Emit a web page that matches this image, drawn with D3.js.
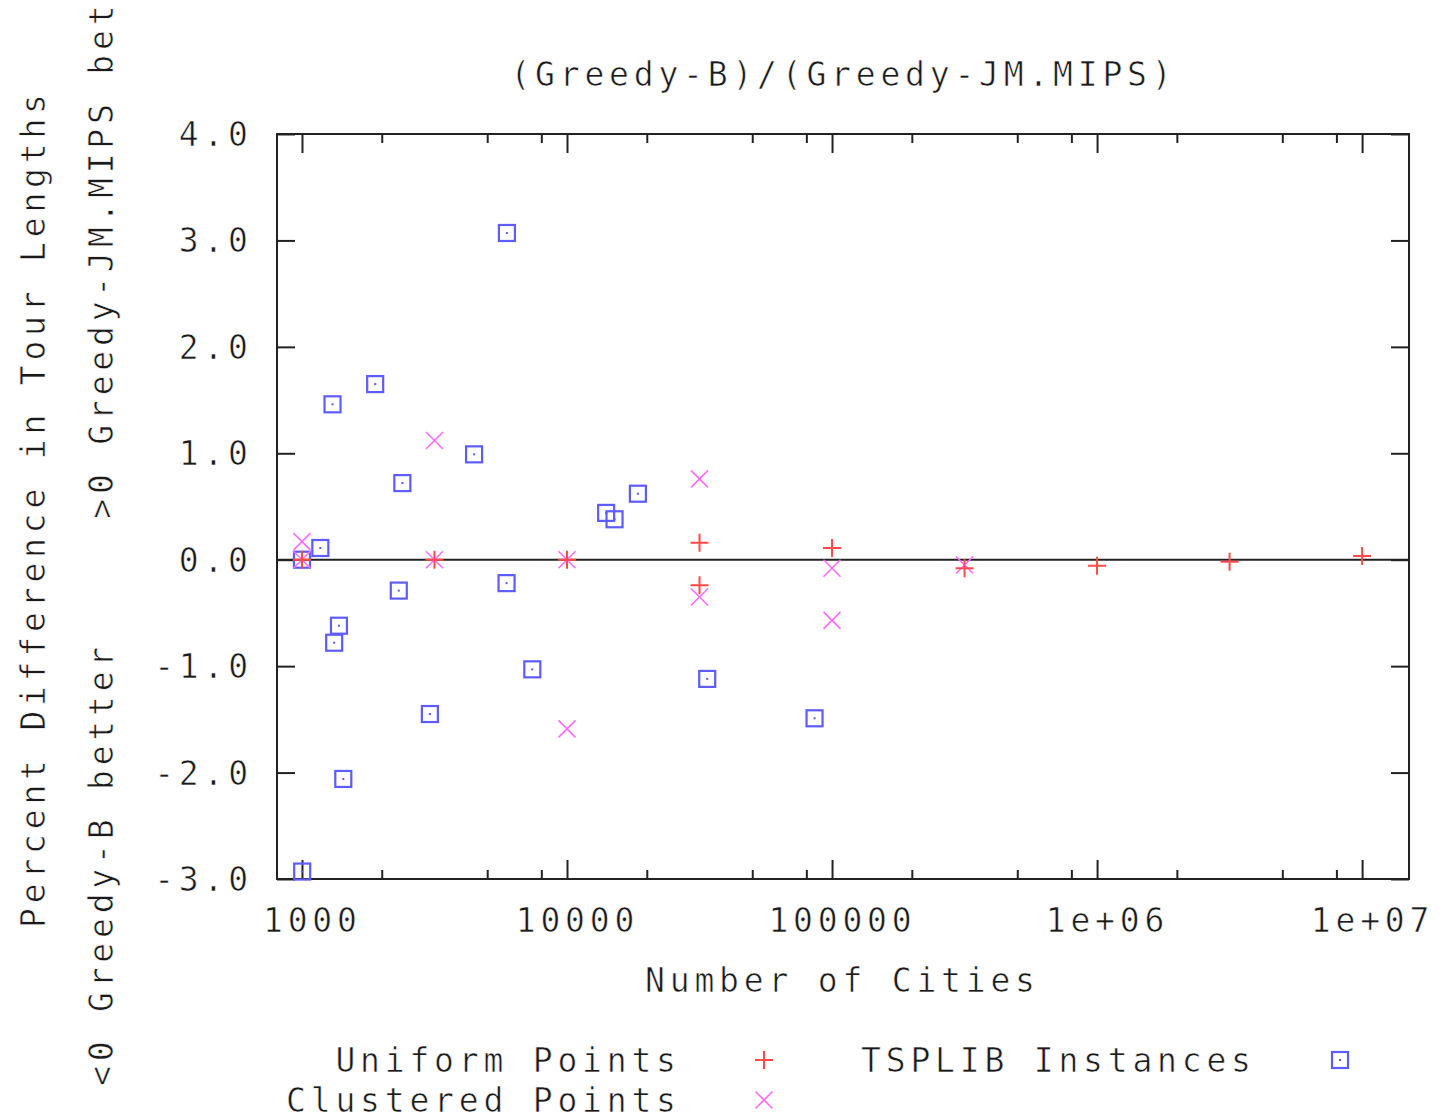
<!DOCTYPE html>
<html>
<head>
<meta charset="utf-8">
<script src="https://cdn.jsdelivr.net/npm/d3@7"></script>
<style>
  html, body { margin: 0; padding: 0; background: #fff; }
  svg { display: block; }
  .lbl { font-family: "DejaVu Sans Mono", monospace; font-size: 33px; letter-spacing: 4.8px;
         fill: #1a1a1a; stroke: #fff; stroke-width: 0.6px; }
</style>
</head>
<body>
<svg id="chart" width="1439" height="1119"></svg>
<script>
// Tour-length comparison data: number of cities vs percent difference
const uniformCities   = [1000, 3162, 10000, 31623, 31623, 100000, 316228, 1000000, 3162278, 10000000];
const uniformValues   = [0.0, 0.0, 0.0, 0.16, -0.24, 0.11, -0.08, -0.056, -0.02, 0.035];

const clusteredCities = [1000, 1000, 3162, 3162, 10000, 10000, 31623, 31623, 100000, 100000, 316228];
const clusteredValues = [0.17, 0.0, 1.12, 0.0, 0.0, -1.59, 0.76, -0.35, -0.08, -0.57, -0.05];

const tsplibCities = [5934, 1304, 1889, 4461, 2392, 14051, 15112, 18512, 1173, 1000,
                      5915, 2319, 1379, 1323, 7397, 33810, 3038, 85900, 1432, 1002];
const tsplibValues = [3.07, 1.46, 1.65, 0.99, 0.72, 0.44, 0.38, 0.62, 0.11, 0.0,
                      -0.22, -0.29, -0.62, -0.78, -1.03, -1.12, -1.45, -1.49, -2.06, -2.93];

const xTickValues = [1e3, 1e4, 1e5, 1e6, 1e7];
const xTickLabels = ["1000", "10000", "100000", "1e+06", "1e+07"];
const xMinorMultipliers = [2, 5, 8];
const yTickValues = [-3, -2, -1, 0, 1, 2, 3, 4];
const yTickLabels = ["-3.0", "-2.0", "-1.0", "0.0", "1.0", "2.0", "3.0", "4.0"];

const titleText = "(Greedy-B)/(Greedy-JM.MIPS)";
const xTitle = "Number of Cities";
const yTitle1 = "Percent Difference in Tour Lengths";
// the second y-axis line runs past the top edge of the page; only this much of it shows
const yTitle2 = "<0 Greedy-B better     >0 Greedy-JM.MIPS bet";
const seriesNames = ["Uniform Points", "Clustered Points", "TSPLIB Instances"];

const COL_PLUS = "#ff4a4a", COL_CROSS = "#ff6cff", COL_BOX = "#5c5cff";
const LS = 4.8; // letter spacing in px

const svg = d3.select("#chart");
const plotL = 277, plotR = 1409, plotT = 134, plotB = 879;

const x = d3.scaleLog().domain([805, 1.503e7]).range([plotL, plotR]);
const y = d3.scaleLinear().domain([-3, 4]).range([plotB, plotT]);

// frame
svg.append("rect").attr("x", plotL).attr("y", plotT).attr("width", plotR - plotL).attr("height", plotB - plotT)
  .attr("fill", "none").attr("stroke", "#222").attr("stroke-width", 2);

// zero line
svg.append("line").attr("x1", plotL).attr("x2", plotR).attr("y1", y(0)).attr("y2", y(0))
  .attr("stroke", "#222").attr("stroke-width", 2);

// minor x ticks
const minors = [];
for (let d = 100; d <= 1e7; d *= 10) xMinorMultipliers.forEach(m => { const v = d * m; if (x(v) > plotL + 1 && x(v) < plotR - 1) minors.push(v); });

function tickAxis(axisFn, scale, values, size, tr) {
  const g = svg.append("g").attr("transform", tr)
    .call(axisFn(scale).tickValues(values).tickSize(size).tickFormat(""));
  g.select(".domain").remove();
  g.selectAll(".tick line").attr("stroke", "#222").attr("stroke-width", 2);
  g.selectAll("text").remove();
  return g;
}
tickAxis(d3.axisBottom, x, xTickValues, -19, `translate(0,${plotB})`);
tickAxis(d3.axisTop, x, xTickValues, -19, `translate(0,${plotT})`);
tickAxis(d3.axisBottom, x, minors, -9, `translate(0,${plotB})`);
tickAxis(d3.axisTop, x, minors, -9, `translate(0,${plotT})`);
tickAxis(d3.axisLeft, y, yTickValues, -18, `translate(${plotL},0)`);
tickAxis(d3.axisRight, y, yTickValues, -18, `translate(${plotR},0)`);

// tick labels
const xLab = svg.append("g").attr("class", "xlabels");
xTickValues.forEach((v, i) => {
  xLab.append("text").attr("class", "lbl").attr("x", x(v) + LS / 2 + 8).attr("y", 932)
    .attr("text-anchor", "middle").text(xTickLabels[i]);
});
const yLab = svg.append("g").attr("class", "ylabels");
yTickValues.forEach((v, i) => {
  yLab.append("text").attr("class", "lbl").attr("x", 248 + LS).attr("y", y(v) + 12)
    .attr("text-anchor", "end").text(yTickLabels[i]);
});

// titles
svg.append("text").attr("class", "lbl").attr("x", (plotL + plotR) / 2 - 2 + LS / 2).attr("y", 86)
  .attr("text-anchor", "middle").text(titleText);
svg.append("text").attr("class", "lbl").attr("x", 840 + LS / 2).attr("y", 992)
  .attr("text-anchor", "middle").text(xTitle);
svg.append("text").attr("class", "lbl").attr("text-anchor", "middle").style("white-space", "pre")
  .attr("transform", `translate(45,${511 - LS / 2}) rotate(-90)`).text(yTitle1);
svg.append("text").attr("class", "lbl").attr("text-anchor", "start").style("white-space", "pre")
  .attr("transform", `translate(113,1086) rotate(-90)`).text(yTitle2);

// marker drawers
function plus(g, cx, cy, r, col) {
  g.append("path").attr("d", `M${cx - r},${cy}H${cx + r}M${cx},${cy - r}V${cy + r}`)
    .attr("stroke", col).attr("stroke-width", 2).attr("fill", "none");
}
function cross(g, cx, cy, r, col) {
  g.append("path").attr("d", `M${cx - r},${cy - r}L${cx + r},${cy + r}M${cx - r},${cy + r}L${cx + r},${cy - r}`)
    .attr("stroke", col).attr("stroke-width", 1.6).attr("fill", "none");
}
function box(g, cx, cy, r, col) {
  g.append("rect").attr("x", cx - r).attr("y", cy - r).attr("width", 2 * r).attr("height", 2 * r)
    .attr("stroke", col).attr("stroke-width", 2.2).attr("fill", "none");
  g.append("rect").attr("x", cx - 1).attr("y", cy - 1).attr("width", 2).attr("height", 2).attr("fill", col);
}

const marks = svg.append("g");
tsplibCities.forEach((c, i) => box(marks, x(c), y(tsplibValues[i]), 8, COL_BOX));
clusteredCities.forEach((c, i) => cross(marks, x(c), y(clusteredValues[i]), 8.5, COL_CROSS));
uniformCities.forEach((c, i) => plus(marks, x(c), y(uniformValues[i]), 9, COL_PLUS));

// legend
const leg = svg.append("g");
leg.append("text").attr("class", "lbl").attr("x", 676 + LS).attr("y", 1072).attr("text-anchor", "end").text(seriesNames[0]);
leg.append("text").attr("class", "lbl").attr("x", 676 + LS).attr("y", 1112).attr("text-anchor", "end").text(seriesNames[1]);
leg.append("text").attr("class", "lbl").attr("x", 1251 + LS).attr("y", 1072).attr("text-anchor", "end").text(seriesNames[2]);
plus(leg, 764, 1060, 9, COL_PLUS);
cross(leg, 764, 1100, 8.5, COL_CROSS);
box(leg, 1340, 1060, 8, COL_BOX);
</script>
</body>
</html>
